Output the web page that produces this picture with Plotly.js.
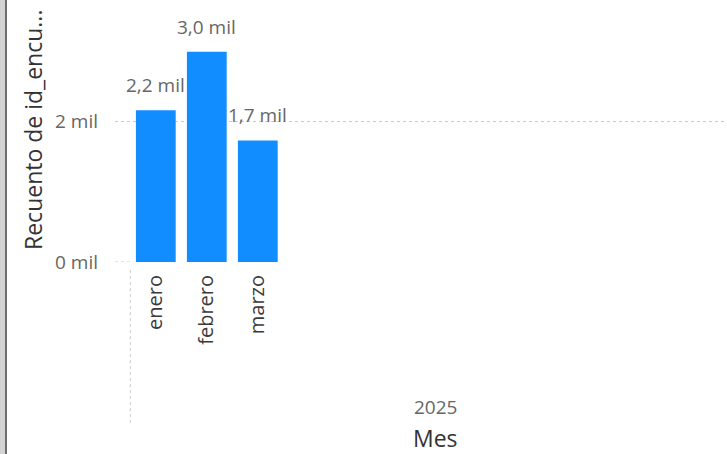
<!DOCTYPE html>
<html>
<head>
<meta charset="utf-8">
<script src="https://cdn.plot.ly/plotly-3.0.1.min.js"></script>
<style>
html,body{margin:0;padding:0;background:#fff;}
#chart{width:727px;height:454px;position:relative;}
#edge1{position:absolute;left:0;top:0;width:5px;height:454px;background:#d4d4d4;z-index:5;}
#edge2{position:absolute;left:5px;top:0;width:2px;height:454px;background:#6e6e6e;z-index:5;}
</style>
</head>
<body>
<div id="edge1"></div><div id="edge2"></div>
<div id="chart"></div>
<script>
var months = ["enero", "febrero", "marzo"];
var counts = [2160, 2990, 1730];
var yTickVals = [0, 2000];
var yTickText = ["0 mil", "2 mil"];
var yearLabel = "2025";
var xTitle = "Mes";
var yTitle = "Recuento de id_encu...";

var idx = months.map(function(m, i){ return i; });
var labels = counts.map(function(v){ return (v/1000).toFixed(1).replace('.', ',') + ' mil'; });
var FONT = 'Open Sans, sans-serif';

var trace = {
  type: 'bar',
  x: idx,
  y: counts,
  width: 0.78,
  marker: {color: '#118DFF'},
  hoverinfo: 'none'
};

var annotations = idx.map(function(i){
  return {text: labels[i], xref: 'x', yref: 'y', x: i, y: counts[i],
    xanchor: 'center', yanchor: 'bottom', yshift: 10, showarrow: false,
    font: {family: FONT, size: 19, color: '#666666'}};
});
annotations.push(
  {text: yTitle, xref: 'paper', yref: 'paper', x: -82/612, y: (262-130)/232,
   xanchor: 'center', yanchor: 'middle', textangle: -90, showarrow: false,
   font: {family: FONT, size: 23, color: '#333333'}},
  {text: yearLabel, xref: 'paper', yref: 'paper', x: (435-115)/612, y: -(407-262)/232,
   xanchor: 'center', yanchor: 'middle', showarrow: false,
   font: {family: FONT, size: 19, color: '#666666'}},
  {text: xTitle, xref: 'paper', yref: 'paper', x: (435-115)/612, y: -(438-262)/232,
   xanchor: 'center', yanchor: 'middle', showarrow: false,
   font: {family: FONT, size: 23, color: '#333333'}}
);

var layout = {
  width: 727, height: 454,
  margin: {l: 115, r: 0, t: 30, b: 192},
  paper_bgcolor: '#ffffff', plot_bgcolor: '#ffffff',
  showlegend: false,
  xaxis: {
    range: [-0.8, 11.2],
    tickvals: idx,
    ticktext: months,
    tickangle: -90,
    showgrid: false,
    zeroline: false,
    showline: false,
    ticks: '',
    ticklabelstandoff: 8,
    tickfont: {family: FONT, size: 20, color: '#3a3a3a'}
  },
  yaxis: {
    range: [0, 3300],
    tickvals: yTickVals,
    ticktext: yTickText,
    showgrid: true,
    gridcolor: '#c8c8c8',
    griddash: 'dot',
    gridwidth: 1,
    zeroline: false,
    showline: false,
    ticks: '',
    ticklabelstandoff: 16,
    tickfont: {family: FONT, size: 19, color: '#666666'}
  },
  shapes: [
    {type: 'line', xref: 'paper', yref: 'y', x0: 0, x1: 0.03, y0: 0, y1: 0,
     line: {color: '#c8c8c8', width: 1, dash: 'dot'}},
    {type: 'line', xref: 'x', yref: 'paper', x0: -0.5, x1: -0.5, y0: -0.035, y1: -0.70,
     line: {color: '#c8c8c8', width: 1, dash: 'dot'}}
  ],
  annotations: annotations
};

Plotly.newPlot('chart', [trace], layout, {displayModeBar: false, staticPlot: true});
</script>
</body>
</html>
